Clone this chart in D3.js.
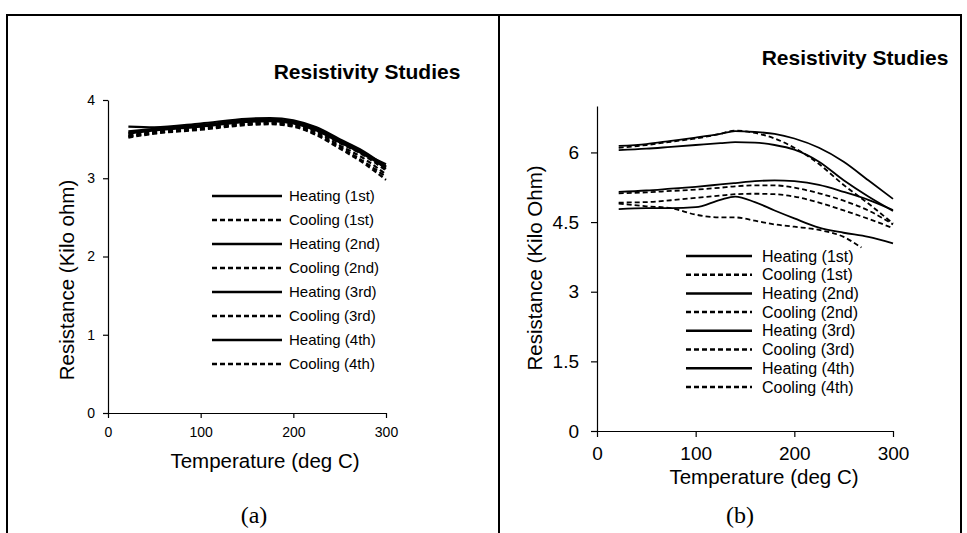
<html>
<meta charset="utf-8" />
<head>
<title>Resistivity Studies</title>
<script src="https://cdn.jsdelivr.net/npm/d3@7"></script>
<style>
  body { margin: 0; background: #fff; }
  svg { font-family: "Liberation Sans", Arial, sans-serif; }
  .axis path, .axis line { stroke: #000; stroke-width: 1.2; }
  .axis text { fill: #000; }
</style>
<script>
// ---- chart (a) data ----
const tempsA = [22, 50, 100, 150, 175, 200, 225, 250, 275, 300];
const heat1A = [3.66, 3.65, 3.70, 3.76, 3.77, 3.74, 3.65, 3.50, 3.35, 3.15];
const cool1A = [3.55, 3.60, 3.66, 3.72, 3.73, 3.70, 3.60, 3.45, 3.30, 3.10];
const heat2A = [3.60, 3.63, 3.68, 3.74, 3.75, 3.72, 3.63, 3.48, 3.33, 3.12];
const cool2A = [3.53, 3.58, 3.64, 3.70, 3.71, 3.68, 3.58, 3.42, 3.26, 3.05];
const heat3A = [3.58, 3.62, 3.67, 3.73, 3.74, 3.71, 3.62, 3.47, 3.32, 3.18];
const cool3A = [3.54, 3.58, 3.63, 3.69, 3.70, 3.67, 3.56, 3.40, 3.22, 3.02];
const heat4A = [3.57, 3.61, 3.66, 3.72, 3.73, 3.70, 3.61, 3.46, 3.31, 3.14];
const cool4A = [3.52, 3.57, 3.62, 3.68, 3.69, 3.66, 3.55, 3.38, 3.20, 2.98];

// ---- chart (b) data ----
const tempsB = [22, 50, 75, 100, 125, 140, 160, 180, 200, 225, 250, 275, 300];
const heat1B = [4.78, 4.80, 4.80, 4.82, 4.98, 5.05, 4.93, 4.75, 4.58, 4.38, 4.27, 4.18, 4.04];
const cool1B = [4.92, 4.93, 4.97, 5.02, 5.07, 5.10, 5.11, 5.10, 5.05, 4.92, 4.75, 4.57, 4.37];
const heat2B = [5.15, 5.18, 5.22, 5.26, 5.31, 5.34, 5.38, 5.40, 5.38, 5.30, 5.15, 4.98, 4.76];
const cool2B = [5.12, 5.14, 5.17, 5.20, 5.24, 5.27, 5.29, 5.29, 5.24, 5.12, 4.96, 4.75, 4.45];
const heat3B = [6.05, 6.08, 6.12, 6.16, 6.20, 6.22, 6.21, 6.16, 6.06, 5.80, 5.40, 5.05, 4.74];
const cool3B = [6.10, 6.16, 6.23, 6.30, 6.40, 6.47, 6.42, 6.30, 6.10, 5.75, 5.30, 4.90, 4.47];
const heat4B = [6.14, 6.18, 6.25, 6.32, 6.40, 6.46, 6.44, 6.40, 6.30, 6.10, 5.80, 5.40, 5.00];
const tempsCool4B = [22, 50, 75, 100, 125, 140, 160, 180, 200, 225, 250, 268];
const cool4B = [4.90, 4.84, 4.80, 4.66, 4.60, 4.60, 4.53, 4.45, 4.40, 4.33, 4.18, 3.95];

const legendNames = ["Heating (1st)", "Cooling (1st)", "Heating (2nd)", "Cooling (2nd)",
                     "Heating (3rd)", "Cooling (3rd)", "Heating (4th)", "Cooling (4th)"];
const ticksA = [0, 1, 2, 3, 4];
const ticksB = [0, 1.5, 3, 4.5, 6];
const ticksX = [0, 100, 200, 300];

function drawChart(svg, o) {
  const x = d3.scaleLinear().domain([0, 300]).range([o.left, o.right]);
  const y = d3.scaleLinear().domain(o.yDomain).range([o.bottom, o.top]);

  const xAxis = d3.axisBottom(x).tickValues(ticksX).tickSize(o.tick).tickSizeOuter(0).tickPadding(o.xPad);
  const yAxis = d3.axisLeft(y).tickValues(o.yTicks).tickSize(o.tick).tickSizeOuter(0).tickPadding(o.yPad)
    .tickFormat(d3.format("~g"));

  svg.append('g').attr('class', 'axis').attr('transform', `translate(0,${o.bottom})`)
    .call(xAxis).call(g => g.selectAll('text').style('font-size', o.tickFont + 'px'));
  svg.append('g').attr('class', 'axis').attr('transform', `translate(${o.left},0)`)
    .call(yAxis).call(g => g.selectAll('text').style('font-size', o.tickFont + 'px'));

  const line = d3.line().curve(d3.curveMonotoneX).x(d => x(d[0])).y(d => y(d[1]));
  o.series.forEach((s, i) => {
    const pts = s.temps.map((t, j) => [t, s.vals[j]]);
    svg.append('path').datum(pts)
      .attr('d', line)
      .attr('fill', 'none')
      .attr('stroke', '#000')
      .attr('stroke-width', o.lineW)
      .attr('stroke-dasharray', i % 2 ? '5,3' : null);
  });

  // legend
  legendNames.forEach((name, i) => {
    const ly = o.legY + i * o.legStep;
    svg.append('line')
      .attr('x1', o.legX1).attr('x2', o.legX2).attr('y1', ly).attr('y2', ly)
      .attr('stroke', '#000').attr('stroke-width', 2.5)
      .attr('stroke-dasharray', i % 2 ? '5,3' : null);
    svg.append('text').attr('x', o.legText).attr('y', ly).attr('dy', '0.35em')
      .style('font-size', o.legFont + 'px').text(name);
  });

  svg.append('text').attr('x', o.titleX).attr('y', o.titleY).attr('dy', '0.35em')
    .attr('text-anchor', 'middle').style('font-size', '21px').style('font-weight', 'bold')
    .text('Resistivity Studies');
  svg.append('text').attr('x', o.xTitleX).attr('y', o.xTitleY).attr('dy', '0.35em')
    .attr('text-anchor', 'middle').style('font-size', '20.5px').text('Temperature (deg C)');
  svg.append('text').attr('transform', `translate(${o.yTitleX},${o.yTitleY}) rotate(-90)`)
    .attr('dy', '0.35em').attr('text-anchor', 'middle').style('font-size', '20.5px').text(o.yTitle);
  svg.append('text').attr('x', o.capX).attr('y', 515).attr('dy', '0.35em')
    .attr('text-anchor', 'middle').style('font-family', '"Liberation Serif", "Times New Roman", serif')
    .style('font-size', '24px').text(o.cap);
}

window.onload = function() {
  const svg = d3.select('svg');

  // frame
  svg.append('path').attr('d', 'M7,533 V15 H961 V533 M499,15 V533')
    .attr('fill', 'none').attr('stroke', '#000').attr('stroke-width', 2);

  drawChart(svg, {
    left: 108, right: 386, top: 100, bottom: 413, yDomain: [0, 4], yTicks: ticksA,
    tick: 5, xPad: 9, yPad: 8, tickFont: 14, lineW: 2.2,
    series: [
      {temps: tempsA, vals: heat1A}, {temps: tempsA, vals: cool1A},
      {temps: tempsA, vals: heat2A}, {temps: tempsA, vals: cool2A},
      {temps: tempsA, vals: heat3A}, {temps: tempsA, vals: cool3A},
      {temps: tempsA, vals: heat4A}, {temps: tempsA, vals: cool4A}
    ],
    legX1: 212, legX2: 282, legText: 289, legY: 196, legStep: 24, legFont: 15,
    titleX: 367, titleY: 72, xTitleX: 265, xTitleY: 461, yTitleX: 67, yTitleY: 280,
    yTitle: 'Resistance (Kilo ohm)', capX: 254, cap: '(a)'
  });

  drawChart(svg, {
    left: 597, right: 893, top: 106, bottom: 431, yDomain: [0, 7], yTicks: ticksB,
    tick: 6, xPad: 10, yPad: 12, tickFont: 19, lineW: 1.8,
    series: [
      {temps: tempsB, vals: heat1B}, {temps: tempsB, vals: cool1B},
      {temps: tempsB, vals: heat2B}, {temps: tempsB, vals: cool2B},
      {temps: tempsB, vals: heat3B}, {temps: tempsB, vals: cool3B},
      {temps: tempsB, vals: heat4B}, {temps: tempsCool4B, vals: cool4B}
    ],
    legX1: 686, legX2: 752, legText: 762, legY: 256, legStep: 18.7, legFont: 16,
    titleX: 855, titleY: 58, xTitleX: 764, xTitleY: 477, yTitleX: 535, yTitleY: 268,
    yTitle: 'Resistance (Kilo Ohm)', capX: 740, cap: '(b)'
  });
}
</script>
</head>
<body>
<svg width="967" height="533"></svg>
</body>
</html>
